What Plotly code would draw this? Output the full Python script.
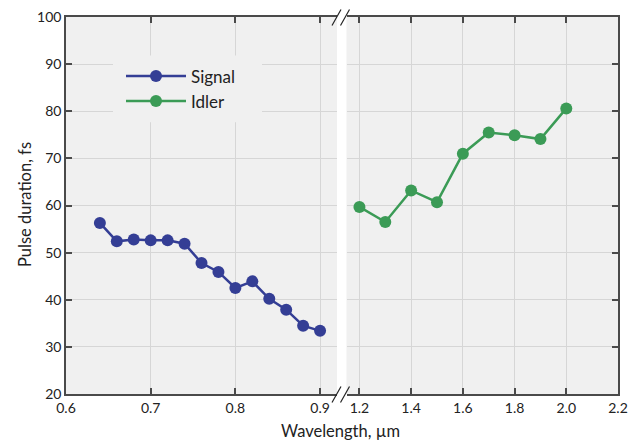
import plotly.graph_objects as go

signal_x = [0.64, 0.66, 0.68, 0.70, 0.72, 0.74, 0.76, 0.78, 0.80, 0.82, 0.84, 0.86, 0.88, 0.90]
signal_y = [56.3, 52.4, 52.8, 52.6, 52.6, 51.9, 47.8, 45.9, 42.5, 43.9, 40.2, 37.9, 34.5, 33.4]
idler_x = [1.2, 1.3, 1.4, 1.5, 1.6, 1.7, 1.8, 1.9, 2.0]
idler_y = [59.7, 56.5, 63.2, 60.7, 71.0, 75.5, 74.9, 74.1, 80.6]

left_ticks = [0.6, 0.7, 0.8, 0.9]
right_ticks = [1.2, 1.4, 1.6, 1.8, 2.0, 2.2]
y_ticks = [20, 30, 40, 50, 60, 70, 80, 90, 100]

BLUE = "#343e95"
GREEN = "#3b9b56"
FONT = "Lato"
W, H = 634, 441
L, R, T, B = 66, 16, 16.5, 46.5
PW, PH = W - L - R, H - T - B
XR1 = [0.6, 0.92]
YR = [20, 100]

def px(x):
    return (x - L) / PW

def py(y):
    return 1 - (y - T) / PH

d1 = px(337)
d2 = px(346.5)

def dx1(p):
    # pixel -> left-axis data value
    return XR1[0] + (p - L) / (337 - L) * (XR1[1] - XR1[0])

def dy(p):
    return YR[0] + (1 - (p - T) / PH) * (YR[1] - YR[0])

fig = go.Figure()
fig.add_trace(go.Scatter(x=signal_x, y=signal_y, mode="lines+markers", name="Signal",
                         line=dict(color=BLUE, width=2.5), marker=dict(size=12, color=BLUE),
                         xaxis="x", yaxis="y"))
fig.add_trace(go.Scatter(x=idler_x, y=idler_y, mode="lines+markers", name="Idler",
                         line=dict(color=GREEN, width=2.5), marker=dict(size=12, color=GREEN),
                         xaxis="x2", yaxis="y2"))

axcommon = dict(showline=True, linecolor="#4a4a4a", linewidth=1.5, ticks="inside", ticklen=6,
                tickcolor="#4a4a4a", tickwidth=1.5, showgrid=True, gridcolor="#d6d6d6", gridwidth=1,
                zeroline=False, automargin=False, tickfont=dict(family=FONT, size=14, color="#222"))

fig.update_layout(
    width=W, height=H,
    margin=dict(l=L, r=R, t=T, b=B, autoexpand=False),
    paper_bgcolor="white", plot_bgcolor="#f0f0f0",
    font=dict(family=FONT, color="#222"),
    xaxis=dict(domain=[0, d1], range=XR1, tickvals=left_ticks,
               ticktext=["0.6", "0.7", "0.8", "0.9"], mirror="ticks", anchor="y", **axcommon),
    xaxis2=dict(domain=[d2, 1], range=[1.15, 2.2], tickvals=right_ticks,
                ticktext=["1.2", "1.4", "1.6", "1.8", "2.0", "2.2"], mirror="ticks", anchor="y2", **axcommon),
    yaxis=dict(domain=[0, 1], range=YR, tickvals=y_ticks, anchor="x", **axcommon),
    yaxis2=dict(domain=[0, 1], range=YR, tickvals=y_ticks, anchor="x2", side="right",
                matches="y", showticklabels=False, **axcommon),
    showlegend=True,
    legend=dict(x=px(121), y=py(58), xanchor="left", yanchor="top", bgcolor="rgba(0,0,0,0)",
                borderwidth=0, font=dict(family=FONT, size=17, color="#222"),
                tracegroupgap=0, itemwidth=60),
)

# legend backdrop hiding the gridlines
fig.add_shape(type="rect", xref="x", yref="y", layer="between",
              x0=dx1(113), x1=dx1(262), y0=dy(122), y1=dy(55),
              fillcolor="#f0f0f0", line=dict(width=0))

fig.add_annotation(text="Wavelength, µm", xref="paper", yref="paper", x=px(340), y=py(432),
                   xanchor="center", yanchor="middle", showarrow=False,
                   font=dict(family=FONT, size=16.5, color="#222"))
fig.add_annotation(text="Pulse duration, fs", xref="paper", yref="paper", x=px(25), y=py(205),
                   xanchor="center", yanchor="middle", showarrow=False, textangle=-90,
                   font=dict(family=FONT, size=16.5, color="#222"))

for yc in (17, 395):
    for x0 in (332, 340.5):
        fig.add_shape(type="line", xref="paper", yref="paper",
                      x0=px(x0), y0=py(yc + 8), x1=px(x0 + 9), y1=py(yc - 8),
                      line=dict(color="#222", width=1.2))

fig.write_html("out.html")
